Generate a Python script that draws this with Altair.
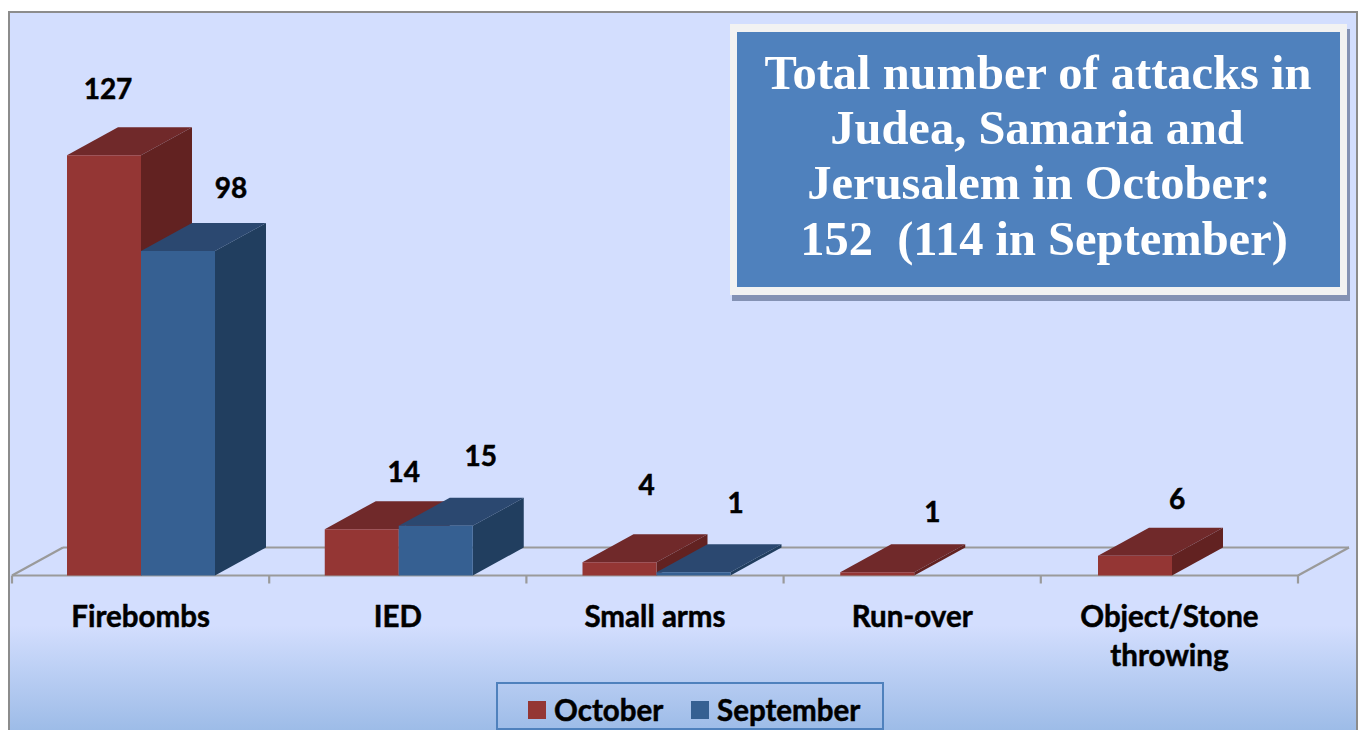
import altair as alt
import pandas as pd

# ---------- values ----------
categories = ["Firebombs", "IED", "Small arms", "Run-over", "Object/Stone"]
october = [127, 14, 4, 1, 6]
september = [98, 15, 1, None, None]
legend_names = ["October", "September"]
title_lines = ["Total number of attacks in", "Judea, Samaria and",
               "Jerusalem in October:", "152 \u00a0(114 in September)"]

# ---------- layout (page pixels -> chart units) ----------
W, H = 1350, 722
PAGE = 8
ORIGIN_X, CAT_PX = 12.0, 257.2
BASE_Y, UNIT_PX = 575.5, 3.31
BAR_PX, DEPTH_X_PX, DEPTH_Y_PX = 74.0, 51.0, 28.0
BAR_STEP_PX = 257.75
FIRST_CENTRE_PX = 141.0


def cx(px):
    return (px - ORIGIN_X) / CAT_PX


def vy(py):
    return (BASE_Y - py) / UNIT_PX


bw = BAR_PX / CAT_PX
dx = DEPTH_X_PX / CAT_PX
dy = DEPTH_Y_PX / UNIT_PX

x_scale = alt.Scale(domain=[cx(PAGE), cx(PAGE + W)], range=[0, W], nice=False, zero=False)
y_scale = alt.Scale(domain=[vy(PAGE + H), vy(PAGE)], range=[H, 0], nice=False, zero=False)
X = lambda f="x": alt.X(f"{f}:Q", scale=x_scale, axis=None)
Y = lambda f="y": alt.Y(f"{f}:Q", scale=y_scale, axis=None)
Y2 = lambda f="y2": alt.Y2(f"{f}:Q")
ONE = alt.Data(values=[{}])

layers = []

# ---------- background ----------
bg = alt.LinearGradient(
    gradient="linear", x1=0, x2=0, y1=0, y2=1,
    stops=[alt.GradientStop(offset=0, color="#D3DEFE"),
           alt.GradientStop(offset=0.84, color="#D3DEFE"),
           alt.GradientStop(offset=1, color="#97B8E5")])
layers.append(alt.Chart(ONE).mark_rect(fill=bg, stroke="#8C8C8C", strokeWidth=2).encode(
    x=alt.value(1), x2=alt.value(W - 1), y=alt.value(4), y2=alt.value(H + 12)))

# ---------- floor ----------
FLOOR = "#9A9A9A"
floor_rows = [
    (0, 0, 5, 0), (dx, dy, 5 + dx, dy), (0, 0, dx, dy), (5, 0, 5 + dx, dy),
] + [(i, 0, i, -8 / UNIT_PX) for i in range(6)]
floor = pd.DataFrame(floor_rows, columns=["x", "y", "x2", "y2"])
layers.append(alt.Chart(floor).mark_rule(color=FLOOR, strokeWidth=2.2).encode(
    x=X(), y=Y(), x2=alt.X2("x2:Q"), y2=Y2()))


# ---------- 3-D bars ----------
def faces(v, i, left_of_centre):
    c = cx(FIRST_CENTRE_PX + i * BAR_STEP_PX)
    x0 = c - bw if left_of_centre else c
    x1 = x0 + bw
    front = [dict(x=x0, x2=x1, y=v, y2=0)]
    top = [dict(x=x0, y=v, y2=v), dict(x=x0 + dx, y=v + dy, y2=v),
           dict(x=x1, y=v + dy, y2=v), dict(x=x1 + dx, y=v + dy, y2=v + dy)]
    side = [dict(x=x1, y=v, y2=0), dict(x=x1 + dx, y=v + dy, y2=dy)]
    return pd.DataFrame(top), pd.DataFrame(side), pd.DataFrame(front)


series = [(october, True, "#943634", "#70292A", "#622221"),
          (september, False, "#366092", "#2B4870", "#213E5F")]
for values, is_left, c_front, c_top, c_side in series:
    for i, v in enumerate(values):
        if v is None:
            continue
        top, side, front = faces(v, i, is_left)
        for df, colour in ((top, c_top), (side, c_side)):
            layers.append(alt.Chart(df).mark_area(color=colour, orient="vertical").encode(
                x=X(), y=Y(), y2=Y2()))
        layers.append(alt.Chart(front).mark_rect(color=c_front).encode(
            x=X(), x2=alt.X2("x2:Q"), y=Y(), y2=Y2()))

# ---------- value labels ----------
label_nudge_x = {"oct": [4, 42, 27, 55, 42], "sep": [53, 45, 42]}
label_nudge_y = {"oct": [-64.5, -55.5, -75.5, -58.5, -54.5], "sep": [-61.5, -67.5, -67.5]}
rows = []
for key, values, sign in (("oct", october, -1), ("sep", september, 1)):
    for i, v in enumerate(values):
        if v is None:
            continue
        centre = FIRST_CENTRE_PX + i * BAR_STEP_PX + sign * BAR_PX / 2
        rows.append(dict(x=cx(centre + label_nudge_x[key][i]),
                         y=v - label_nudge_y[key][i] / UNIT_PX, t=str(v)))
FONT = "Lato"
HEAVY = dict(font=FONT, fontWeight="bold", color="black", stroke="black", strokeWidth=0.5)
layers.append(alt.Chart(pd.DataFrame(rows)).mark_text(
    fontSize=28, baseline="middle", **HEAVY).encode(
    x=X(), y=Y(), text="t:N"))

# ---------- category labels ----------
cat_rows = [dict(x=i + 0.5, y=vy(618), t=c) for i, c in enumerate(categories)]
cat_rows.append(dict(x=4.5, y=vy(657), t="throwing"))
layers.append(alt.Chart(pd.DataFrame(cat_rows)).mark_text(
    fontSize=29.5, baseline="middle", **HEAVY).encode(
    x=X(), y=Y(), text="t:N"))

# ---------- legend ----------
layers.append(alt.Chart(ONE).mark_rect(fill="transparent", stroke="#4F81BD", strokeWidth=2).encode(
    x=alt.value(497 - PAGE), x2=alt.value(883 - PAGE),
    y=alt.value(683 - PAGE), y2=alt.value(729 - PAGE)))
for name, colour, sq_x, tx_x in ((legend_names[0], "#943634", 528, 554),
                                 (legend_names[1], "#366092", 691, 717)):
    layers.append(alt.Chart(ONE).mark_rect(color=colour).encode(
        x=alt.value(sq_x - PAGE), x2=alt.value(sq_x + 18 - PAGE),
        y=alt.value(701 - PAGE), y2=alt.value(719 - PAGE)))
    layers.append(alt.Chart(ONE).mark_text(
        text=name, fontSize=29.5, align="left", baseline="middle", **HEAVY).encode(
        x=alt.value(tx_x - PAGE), y=alt.value(712 - PAGE)))

# ---------- title box ----------
for (l, r, t, b, colour) in ((732, 1350, 29, 301, "#8492B4"),
                             (730, 1347, 24, 295, "#F2F2F2"),
                             (737, 1340, 32, 287, "#4F81BD")):
    layers.append(alt.Chart(ONE).mark_rect(color=colour).encode(
        x=alt.value(l - PAGE), x2=alt.value(r - PAGE),
        y=alt.value(t - PAGE), y2=alt.value(b - PAGE)))
for line, lx, ly in zip(title_lines, (1038, 1037, 1039, 1044), (74, 129, 184, 240)):
    layers.append(alt.Chart(ONE).mark_text(
        text=line, font="Liberation Serif", fontWeight="bold", fontSize=48.5, color="white",
        align="center", baseline="middle").encode(
        x=alt.value(lx - PAGE), y=alt.value(ly - PAGE)))

chart = alt.layer(*layers).properties(
    width=W, height=H, padding=0, background="white",
    autosize=alt.AutoSizeParams(type="none"),
).configure_view(stroke=None)

chart.save("out.html", embed_options={"renderer": "svg", "actions": False})
